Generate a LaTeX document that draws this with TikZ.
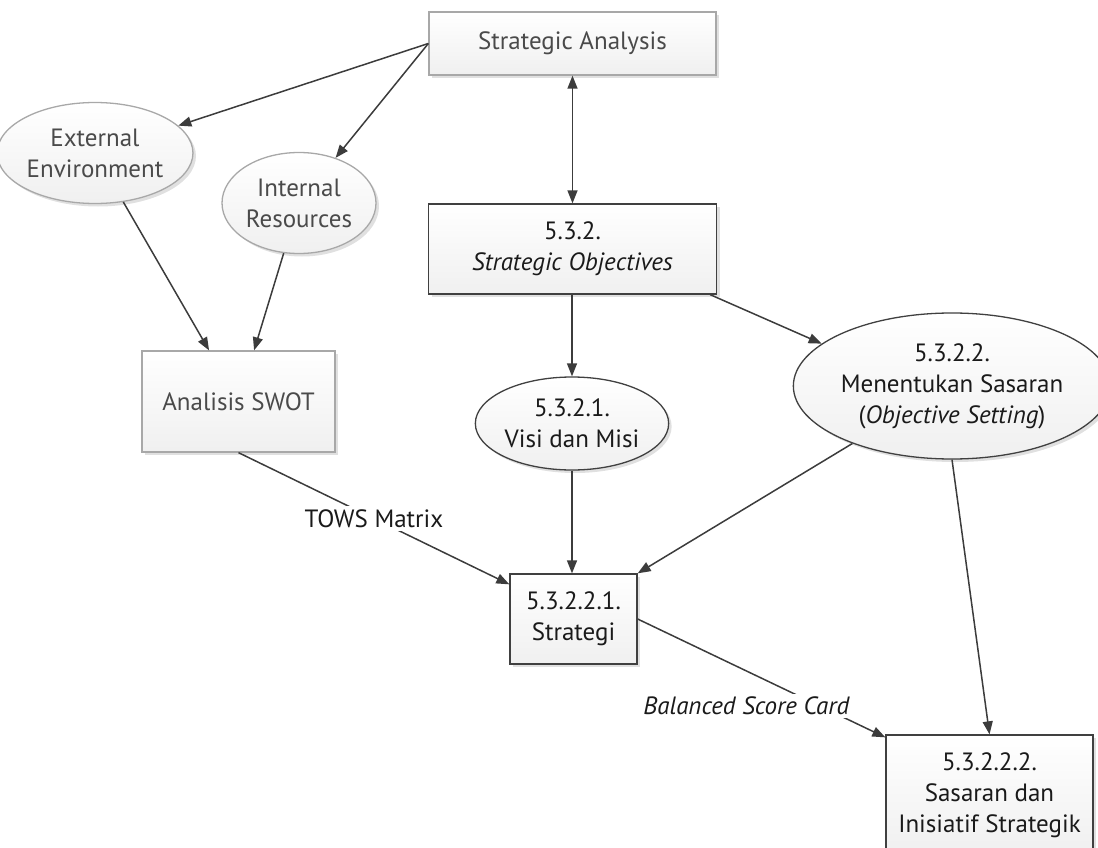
\documentclass[tikz,border=0pt]{standalone}
\usepackage{fontspec}
\setmainfont{PT Sans}
\usetikzlibrary{shapes.geometric,arrows.meta,shadows}
\definecolor{lightedge}{HTML}{A8A8A8}
\definecolor{darkedge}{HTML}{404040}
\definecolor{graytext}{HTML}{4A4A4A}
\definecolor{darktext}{HTML}{1A1A1A}
\definecolor{wire}{HTML}{3C3C3C}
\tikzset{
  base/.style={line width=1.3pt, top color=white, bottom color=black!6, align=center,
    font=\fontsize{25}{31}\selectfont, inner sep=1pt,
    drop shadow={shadow xshift=3pt, shadow yshift=-3pt, fill=black!12, opacity=1}},
  litebox/.style={base, rectangle, draw=lightedge, text=graytext},
  liteell/.style={base, ellipse, draw=lightedge, text=graytext},
  darkbox/.style={base, rectangle, draw=darkedge, text=darktext},
  darkell/.style={base, ellipse, draw=darkedge, text=darktext},
  conn/.style={draw=wire, line width=1.5pt, -{Triangle[length=13pt,width=10pt]}},
  edgelabel/.style={fill=white, text=darktext, font=\fontsize{25}{31}\selectfont, inner sep=3pt}
}
\begin{document}
\begin{tikzpicture}[x=1pt,y=-1pt]
\useasboundingbox (0,0) rectangle (1098,848);
\node[litebox, minimum width=287pt, minimum height=63pt] (sa) at (572.5,43.5) {Strategic Analysis};
\node[liteell, minimum width=174pt, minimum height=101pt] (ext) at (95,153) {External\\Environment};
\node[liteell, minimum width=154pt, minimum height=101pt] (int) at (299,203) {Internal\\Resources};
\node[litebox, minimum width=193pt, minimum height=101pt] (swot) at (238.5,401.5) {Analisis SWOT};
\node[darkbox, minimum width=288pt, minimum height=90pt] (so) at (572.5,249) {5.3.2.\\\textit{Strategic Objectives}};
\node[darkell, minimum width=189pt, minimum height=93pt] (visi) at (572,423.5) {5.3.2.1.\\Visi dan Misi};
\node[darkell, minimum width=279pt, minimum height=146pt] (ms) at (952,386) {5.3.2.2.\\Menentukan Sasaran\\(\textit{Objective Setting})};
\node[darkbox, minimum width=127pt, minimum height=90pt] (str) at (573.5,619) {5.3.2.2.1.\\Strategi};
\node[darkbox, minimum width=207pt, minimum height=120pt] (ssi) at (989.5,795) {5.3.2.2.2.\\Sasaran dan\\Inisiatif Strategik};

\draw[conn] (sa.west) -- (ext);
\draw[conn] (sa.west) -- (int);
\draw[conn, {Triangle[length=13pt,width=10pt]}-{Triangle[length=13pt,width=10pt]}] (sa.south) -- (so.north);
\draw[conn] (ext) -- (swot);
\draw[conn] (int) -- (swot);
\draw[conn] (so.south -| visi.north) -- (visi.north);
\draw[conn] ([xshift=-7pt]so.south east) -- (ms.162);
\draw[conn] (visi.south) -- (visi.south |- str.north);
\draw[conn] (ms.210) -- (str.north east);
\draw[conn] (ms.south) -- (ssi.north);
\draw[conn] (swot.south) -- node[edgelabel, pos=0.5] (tows) {TOWS Matrix} ([yshift=-11pt]str.north west);
\draw[conn] (str.east) -- node[edgelabel, pos=0.44, yshift=-35pt] (bsc) {\textit{Balanced Score Card}} ([yshift=-3pt]ssi.north west);
\end{tikzpicture}
\end{document}
